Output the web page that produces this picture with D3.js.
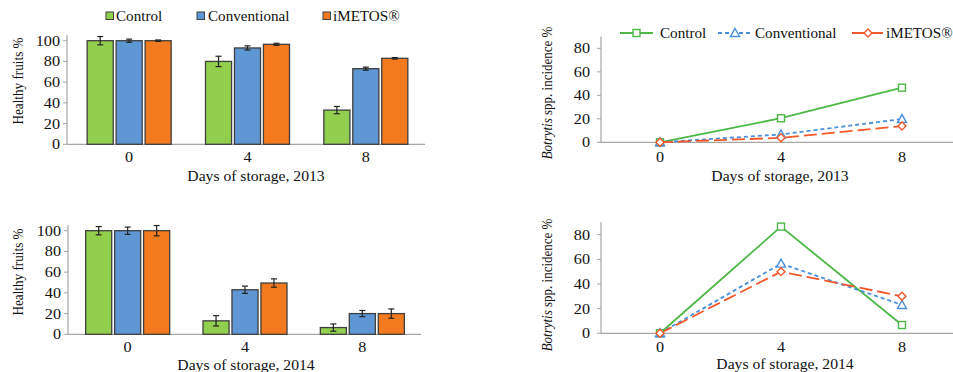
<!DOCTYPE html>
<html><head><meta charset="utf-8">
<script src="https://cdn.jsdelivr.net/npm/d3@7"></script>
<style>
html,body{margin:0;padding:0;background:#fff;}
svg{display:block;}
text{font-family:"Liberation Serif","Times New Roman",serif;fill:#111;}
</style></head>
<body>
<svg id="c" width="953" height="372"></svg>
<script>
// ---- data ----
const days = ["0", "4", "8"];
const series = ["Control", "Conventional", "iMETOS®"];
const healthy2013 = [[100, 80, 33], [100, 93, 73], [100, 96.5, 83]];
const healthyErr2013 = [[4, 5, 3.5], [1.5, 2, 1.5], [0.7, 1, 0.7]];
const healthy2014 = [[100, 13, 6.5], [100, 43, 20], [100, 49.5, 20]];
const healthyErr2014 = [[4, 5, 3.5], [3.5, 3.5, 3], [5, 4, 4.5]];
const botrytis2013 = [[0, 20.5, 46.5], [0, 6.7, 19.8], [0, 3.8, 13.8]];
const botrytis2014 = [[0, 86.5, 6.7], [0, 56.5, 23], [0, 50, 30]];
const barTicks = [0, 20, 40, 60, 80, 100];
const lineTicks = [0, 20, 40, 60, 80];

const barColors = ["#92CF4F", "#5E97D3", "#F47A20"];
const lineColors = ["#4DB848", "#4A8FD8", "#F2582A"];
const lineDash = [null, "4,3", "13,5"];
const SX = 1.08; // horizontal stretch of the original text

const svg = d3.select("#c");

function htext(g, x, y, str, size, anchor) {
  return g.append("text")
    .attr("transform", `translate(${x},${y}) scale(${SX},1)`)
    .attr("text-anchor", anchor || "start")
    .attr("font-size", size)
    .text(str);
}
function vtext(g, x, y, str, size, italicFirst) {
  const t = g.append("text")
    .attr("transform", `translate(${x},${y}) rotate(-90) scale(1,${SX})`)
    .attr("text-anchor", "middle")
    .attr("font-size", size);
  if (italicFirst) {
    t.append("tspan").attr("font-style", "italic").text(italicFirst);
    t.append("tspan").text(str);
  } else t.text(str);
  return t;
}

function barChart(cfg) {
  const g = svg.append("g");
  const x = d3.scaleBand().domain(days).range(cfg.xr);
  const xi = d3.scaleBand().domain(series).range([0, 84]).paddingInner(0.1);
  const y = d3.scaleLinear().domain([0, 105.5]).range(cfg.yr);
  g.append("line").attr("x1", cfg.ax).attr("x2", cfg.ax).attr("y1", y(105.5)).attr("y2", y(0))
    .attr("stroke", "#A6A6A6").attr("stroke-width", 1.2);
  g.append("line").attr("x1", cfg.ax).attr("x2", cfg.xr[1]).attr("y1", y(0)).attr("y2", y(0))
    .attr("stroke", "#A6A6A6").attr("stroke-width", 1.2);
  barTicks.forEach(t => {
    g.append("line").attr("x1", cfg.ax - 4).attr("x2", cfg.ax).attr("y1", y(t)).attr("y2", y(t))
      .attr("stroke", "#A6A6A6");
    htext(g, cfg.ax - 7, y(t) + 5, String(t), 15, "end");
  });
  days.forEach(d => htext(g, x(d) + x.bandwidth() / 2, y(0) + 18, d, 15, "middle"));
  htext(g, cfg.titleX, cfg.titleY, cfg.title, 14.5, "middle");
  vtext(g, 23, cfg.ylabY, "Healthy fruits %", 13.2);
  series.forEach((s, si) => {
    days.forEach((d, di) => {
      const v = cfg.vals[si][di], e = cfg.errs[si][di];
      const bx = x(d) + (x.bandwidth() - 84) / 2 + xi(s);
      g.append("rect").attr("x", bx).attr("y", y(v)).attr("width", xi.bandwidth())
        .attr("height", y(0) - y(v)).attr("fill", barColors[si])
        .attr("stroke", "#3f3f3f").attr("stroke-width", 1.3);
      const cx = bx + xi.bandwidth() / 2;
      g.append("line").attr("x1", cx).attr("x2", cx).attr("y1", y(v + e)).attr("y2", y(v - e))
        .attr("stroke", "#222").attr("stroke-width", 1.2);
      [v + e, v - e].forEach(yy => g.append("line").attr("x1", cx - 3).attr("x2", cx + 3)
        .attr("y1", y(yy)).attr("y2", y(yy)).attr("stroke", "#222").attr("stroke-width", 1.2));
    });
  });
}

function marker(g, i, cx, cy, col) {
  if (i === 0) {
    g.append("rect").attr("x", cx - 3.5).attr("y", cy - 3.5).attr("width", 7).attr("height", 7)
      .attr("fill", "#fff").attr("stroke", col).attr("stroke-width", 1.4);
  } else if (i === 1) {
    g.append("path").attr("d", `M${cx},${cy - 4.5}L${cx + 4.5},${cy + 3.5}L${cx - 4.5},${cy + 3.5}Z`)
      .attr("fill", "#fff").attr("stroke", col).attr("stroke-width", 1.4);
  } else {
    g.append("path").attr("d", `M${cx},${cy - 4}L${cx + 4},${cy}L${cx},${cy + 4}L${cx - 4},${cy}Z`)
      .attr("fill", "#fff").attr("stroke", col).attr("stroke-width", 1.4);
  }
}

function lineChart(cfg) {
  const g = svg.append("g");
  const x = d3.scalePoint().domain(days).range([660, 902]);
  const y = d3.scaleLinear().domain([0, 90]).range(cfg.yr);
  g.append("line").attr("x1", 601).attr("x2", 601).attr("y1", y(90)).attr("y2", y(0))
    .attr("stroke", "#A6A6A6").attr("stroke-width", 1.2);
  g.append("line").attr("x1", 601).attr("x2", 953).attr("y1", y(0)).attr("y2", y(0))
    .attr("stroke", "#A6A6A6").attr("stroke-width", 1.2);
  lineTicks.forEach(t => {
    g.append("line").attr("x1", 597).attr("x2", 601).attr("y1", y(t)).attr("y2", y(t)).attr("stroke", "#A6A6A6");
    htext(g, 590, y(t) + 5, String(t), 15, "end");
  });
  days.forEach(d => htext(g, x(d), y(0) + cfg.tickOff, d, 15, "middle"));
  htext(g, cfg.titleX, cfg.titleY, cfg.title, 14.5, "middle");
  vtext(g, 552, cfg.ylabY, " spp. incidence %", 13, "Botrytis");
  const line = d3.line().x((d, i) => x(days[i])).y(d => y(d));
  cfg.vals.forEach((vals, si) => {
    g.append("path").attr("d", line(vals)).attr("fill", "none")
      .attr("stroke", lineColors[si]).attr("stroke-width", 1.8)
      .attr("stroke-dasharray", lineDash[si]);
  });
  cfg.vals.forEach((vals, si) => vals.forEach((v, di) => marker(g, si, x(days[di]), y(v), lineColors[si])));
}

// bar legend
const lg = svg.append("g");
[[106, 116], [197, 208], [323, 333]].forEach((p, i) => {
  lg.append("rect").attr("x", p[0]).attr("y", 12).attr("width", 7.5).attr("height", 7.5)
    .attr("fill", barColors[i]).attr("stroke", "#3f3f3f").attr("stroke-width", 1);
  htext(lg, p[1], 21, series[i], 14, "start");
});
// line legend
const ll = svg.append("g");
[[620, 653, 660], [718, 752, 755], [852, 884, 886]].forEach((p, i) => {
  ll.append("line").attr("x1", p[0]).attr("x2", p[1]).attr("y1", 33).attr("y2", 33)
    .attr("stroke", lineColors[i]).attr("stroke-width", 1.8).attr("stroke-dasharray", lineDash[i]);
  marker(ll, i, (p[0] + p[1]) / 2, 33, lineColors[i]);
  htext(ll, p[2], 38, series[i], 14, "start");
});

barChart({ xr: [70, 425], ax: 67, yr: [144.3, 35], vals: healthy2013, errs: healthyErr2013,
  title: "Days of storage, 2013", titleX: 256, titleY: 181, ylabY: 81 });
barChart({ xr: [69, 421], ax: 68, yr: [334.3, 225], vals: healthy2014, errs: healthyErr2014,
  title: "Days of storage, 2014", titleX: 246, titleY: 370, ylabY: 272 });
lineChart({ yr: [142.3, 36.6], vals: botrytis2013, tickOff: 20, title: "Days of storage, 2013", titleX: 780, titleY: 181, ylabY: 93 });
lineChart({ yr: [333.3, 222.3], vals: botrytis2014, tickOff: 19, title: "Days of storage, 2014", titleX: 785, titleY: 369, ylabY: 285 });
</script>
</body></html>
